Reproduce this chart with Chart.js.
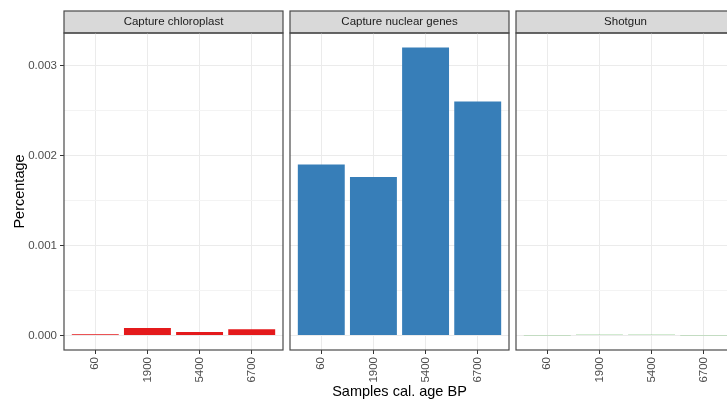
<!DOCTYPE html>
<html>
<head>
<meta charset="utf-8">
<script src="https://cdn.jsdelivr.net/npm/chart.js@4"></script>
<style>
  html, body { margin: 0; padding: 0; background: #ffffff; overflow: hidden; }
  #wrap { position: relative; width: 727px; height: 401px; overflow: hidden; background: #ffffff; }
  #wrap canvas { position: absolute; top: 0; }
</style>
</head>
<body>
<div id="wrap">
  <canvas id="p1" width="287" height="401" style="left:0px"></canvas>
  <canvas id="p2" width="226" height="401" style="left:287px"></canvas>
  <canvas id="p3" width="226" height="401" style="left:513px"></canvas>
</div>
<script>
// Sample ages (cal. BP) on the x axis of every facet
const categories = ['60', '1900', '5400', '6700'];
// Facet titles
const panels = ['Capture chloroplast', 'Capture nuclear genes', 'Shotgun'];
// Percentage of reads per sample, one array per facet
const chloroplast = [0.000015, 0.000085, 0.00004, 0.00007];
const nuclear = [0.0019, 0.00176, 0.0032, 0.0026];
const shotgun = [0.000005, 0.000008, 0.000008, 0.000005];
// Shared y range (5% padding round the data) and labelled ticks
const yMin = -0.00016;
const yMax = 0.00336;
const yStep = 0.0005;
const yLabels = ['0.000', '0.001', '0.002', '0.003'];

const FONT = "'Liberation Sans', Arial, sans-serif";

function isMajor(v) {
  return Math.round(v * 2000) % 2 === 0;
}

// Grey facet strip above the plot area and the panel frame
const facetFrame = {
  id: 'facetFrame',
  beforeDraw(chart) {
    const { ctx, chartArea: a } = chart;
    ctx.save();
    ctx.fillStyle = '#D9D9D9';
    ctx.fillRect(a.left, 11, a.right - a.left, a.top - 11);
    ctx.strokeStyle = '#4a4a4a';
    ctx.lineWidth = 1.2;
    ctx.strokeRect(a.left, 11, a.right - a.left, a.top - 11);
    ctx.restore();
  },
  afterDraw(chart) {
    const { ctx, chartArea: a } = chart;
    ctx.save();
    ctx.strokeStyle = '#4a4a4a';
    ctx.lineWidth = 1.2;
    ctx.strokeRect(a.left, a.top, a.right - a.left, a.bottom - a.top);
    ctx.restore();
  }
};

function makePanel(id, title, values, color, opt) {
  const first = opt.first;
  new Chart(document.getElementById(id), {
    type: 'bar',
    data: {
      datasets: [{
        data: values.map((v, i) => ({ x: i + 1, y: v })),
        backgroundColor: color,
        borderWidth: 0,
        barPercentage: 0.9,
        categoryPercentage: 1.0
      }]
    },
    options: {
      responsive: false,
      animation: false,
      events: [],
      layout: { padding: { left: opt.padLeft, right: 4, top: 11, bottom: 0 } },
      plugins: {
        legend: { display: false },
        tooltip: { enabled: false },
        title: {
          display: true,
          text: title,
          fullSize: false,
          color: '#1A1A1A',
          font: { family: FONT, size: 11.5, lineHeight: '12px', weight: 'normal' },
          padding: { top: 5, bottom: 5 }
        }
      },
      scales: {
        x: {
          type: 'linear',
          min: 0.4,
          max: 4.6,
          offset: false,
          afterBuildTicks(scale) {
            scale.ticks = categories.map((c, i) => ({ value: i + 1 }));
          },
          afterFit(scale) { scale.height = 51; },
          ticks: {
            autoSkip: false,
            minRotation: 90,
            maxRotation: 90,
            padding: 3,
            color: '#4D4D4D',
            font: { family: FONT, size: 11.5 },
            callback: (v) => categories[Math.round(v) - 1]
          },
          grid: {
            offset: false,
            color: '#EBEBEB',
            lineWidth: 1,
            tickLength: 4,
            tickColor: '#333333'
          },
          border: { display: false },
          title: {
            display: !!opt.xTitle,
            text: opt.xTitle || '',
            color: '#000000',
            font: { family: FONT, size: 14.5 },
            padding: { top: 0, bottom: 0 }
          }
        },
        y: {
          type: 'linear',
          min: yMin,
          max: yMax,
          afterFit(scale) { scale.width = first ? 64 : 0; },
          ticks: {
            display: first,
            stepSize: yStep,
            includeBounds: false,
            autoSkip: false,
            padding: 3,
            color: '#4D4D4D',
            font: { family: FONT, size: 11.5 },
            callback: (v) => isMajor(v) ? yLabels[Math.round(v * 1000)] : ''
          },
          grid: {
            drawTicks: first,
            tickLength: 4,
            color: (c) => isMajor(c.tick.value) ? '#EBEBEB' : '#F3F3F3',
            tickColor: (c) => isMajor(c.tick.value) ? '#333333' : 'rgba(0,0,0,0)',
            lineWidth: 1
          },
          border: { display: false },
          title: {
            display: first,
            text: 'Percentage',
            color: '#000000',
            font: { family: FONT, size: 14.5 },
            padding: { top: 11, bottom: 0 }
          }
        }
      }
    },
    plugins: [facetFrame]
  });
}

makePanel('p1', panels[0], chloroplast, '#E41A1C', { first: true, padLeft: 0 });
makePanel('p2', panels[1], nuclear, '#377EB8', { first: false, padLeft: 3, xTitle: 'Samples cal. age BP' });
makePanel('p3', panels[2], shotgun, '#4DAF4A', { first: false, padLeft: 3 });
</script>
</body>
</html>
